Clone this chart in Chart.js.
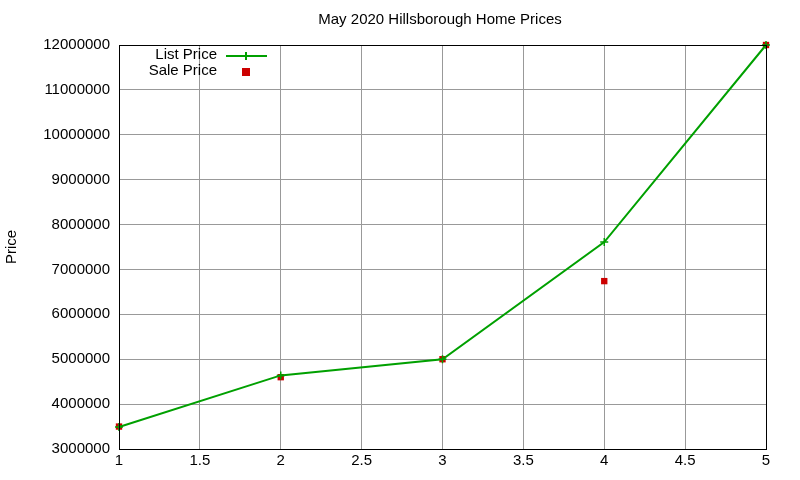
<!DOCTYPE html>
<html><head><meta charset="utf-8">
<script src="https://cdn.jsdelivr.net/npm/chart.js@4"></script>
<style>html,body{margin:0;padding:0;background:#fff}#c{display:block}</style>
</head><body>
<div style="width:800px;height:480px"><canvas id="c"></canvas></div>
<script>
const xValues = [1, 2, 3, 4, 5];
const listPrice = [3490000, 4640000, 5000000, 7610000, 12000000];
const salePrice = [3500000, 4600000, 5000000, 6740000, 12000000];
const chartTitle = 'May 2020 Hillsborough Home Prices';
const yLabel = 'Price';
const FONT = '"Liberation Sans", Arial, sans-serif';

const deco = {
  id: 'deco',
  afterDraw(chart) {
    const ctx = chart.ctx, a = chart.chartArea;
    ctx.save();
    ctx.strokeStyle = '#000'; ctx.lineWidth = 1;
    ctx.strokeRect(a.left + 0.5, a.top + 0.5, a.right - a.left, a.bottom - a.top);
    ctx.fillStyle = '#000';
    ctx.font = '15px ' + FONT;
    ctx.textAlign = 'center'; ctx.textBaseline = 'middle';
    ctx.fillText(chartTitle, 440, 20);
    ctx.save(); ctx.translate(12, 247); ctx.rotate(-Math.PI / 2);
    ctx.fillText(yLabel, 0, 0); ctx.restore();
    ctx.textAlign = 'right';
    ctx.fillText('List Price', 217, 55);
    ctx.fillText('Sale Price', 217, 71);
    ctx.strokeStyle = '#00a000'; ctx.lineWidth = 2;
    ctx.beginPath(); ctx.moveTo(226, 56); ctx.lineTo(267, 56);
    ctx.moveTo(246, 52); ctx.lineTo(246, 60); ctx.stroke();
    ctx.fillStyle = '#cc0000'; ctx.fillRect(242, 68, 8, 8);
    ctx.restore();
  }
};

new Chart(document.getElementById('c'), {
  type: 'scatter',
  data: {
    datasets: [
      { label: 'List Price', data: xValues.map((x, i) => ({ x, y: listPrice[i] })),
        showLine: true, borderColor: '#00a000', backgroundColor: '#00a000', borderWidth: 2,
        pointStyle: 'cross', pointRadius: 4, pointBorderWidth: 1.5, clip: false },
      { label: 'Sale Price', data: xValues.map((x, i) => ({ x, y: salePrice[i] })),
        showLine: false, borderColor: '#cc0000', backgroundColor: '#cc0000',
        pointStyle: 'rect', pointRadius: 4.5, pointBorderWidth: 0, clip: false }
    ]
  },
  options: {
    responsive: true, maintainAspectRatio: false, animation: false,
    layout: { padding: { top: 45, right: 34, left: 0, bottom: 0 } },
    plugins: { legend: { display: false }, title: { display: false }, tooltip: { enabled: false } },
    scales: {
      x: { type: 'linear', min: 1, max: 5,
        ticks: { stepSize: 0.5, color: '#000', font: { family: FONT, size: 15 }, padding: 3,
          callback: v => String(v) },
        grid: { color: '#999', drawTicks: false }, border: { display: false },
        afterFit: s => { s.height = 31; } },
      y: { min: 3000000, max: 12000000,
        ticks: { stepSize: 1000000, color: '#000', font: { family: FONT, size: 15 }, padding: 9,
          callback: v => String(v) },
        grid: { color: '#999', drawTicks: false }, border: { display: false },
        afterFit: s => { s.width = 119; } }
    }
  },
  plugins: [deco]
});
</script>
</body></html>
